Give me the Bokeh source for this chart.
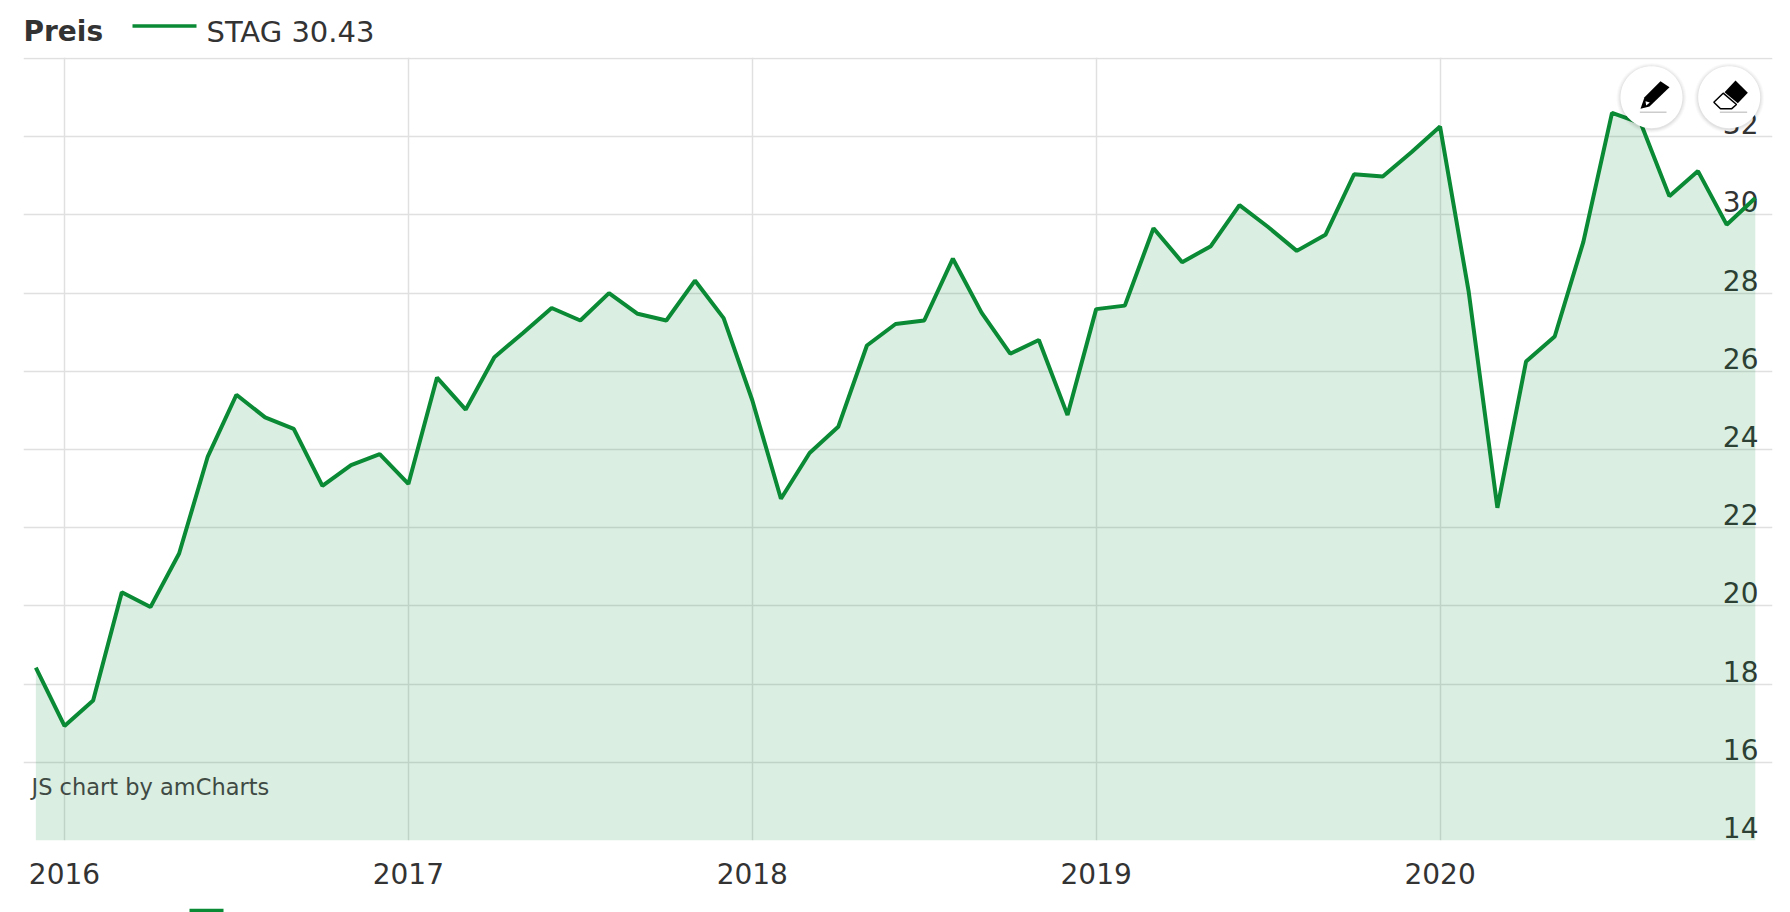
import numpy as np
from bokeh.core.properties import value
from bokeh.layouts import column
from bokeh.plotting import figure
from bokeh.models import ColumnDataSource, FixedTicker, Label, PolyAnnotation, Range1d
from bokeh.embed import file_html
from bokeh.resources import INLINE

# Monthly closing prices, Dec 2015 .. Dec 2020
prices = [18.42, 16.93, 17.58, 20.35, 19.97, 21.34, 23.82, 25.40, 24.82, 24.53, 23.07, 23.60, 23.88,
          23.12, 25.84, 25.02, 26.36, 26.98, 27.62, 27.30, 28.00, 27.47, 27.30, 28.32, 27.36,
          25.26, 22.74, 23.91, 24.58, 26.66, 27.21, 27.30, 28.88, 27.50, 26.45, 26.80, 24.88,
          27.59, 27.68, 29.66, 28.79, 29.20, 30.25, 29.69, 29.08, 29.49, 31.04, 30.98, 31.60,
          32.26, 28.03, 22.51, 26.25, 26.89, 29.31, 32.61, 32.35, 30.48, 31.12, 29.75, 30.43]
years = ["2016", "2017", "2018", "2019", "2020"]
year_index = [1, 13, 25, 37, 49]
y_labels = [14, 16, 18, 20, 22, 24, 26, 28, 30, 32]
y_grid = [14, 16, 18, 20, 22, 24, 26, 28, 30, 32, 34]
series_name = "STAG 30.43"
title_text = "Preis"
credit_text = "JS chart by amCharts"

GREEN = "#0a8a34"
TEXT = "#333333"
FONT = "DejaVu Sans"
W, H = 1790, 912
FRAME_L, FRAME_R, FRAME_T, FRAME_B = 23, 1772, 57, 840
FOOT = 8
X0, X1 = -0.43, 60.6
PX_PER_X = (FRAME_R - FRAME_L) / (X1 - X0)
Y_TOP = 34 + 1 / 39.1


def bare(height, y_range):
    f = figure(width=W, height=height, output_backend="svg", toolbar_location=None,
               x_range=Range1d(FRAME_L, FRAME_R), y_range=y_range, x_axis_location=None,
               y_axis_location=None, min_border=0, min_border_left=FRAME_L,
               min_border_right=W - FRAME_R, min_border_top=0, min_border_bottom=0,
               outline_line_color=None)
    f.grid.visible = False
    return f


# ---- header strip: title and series key
head = bare(FRAME_T, Range1d(FRAME_T, 0))
head.text(x=[23], y=[31], text=[title_text], text_font=value(FONT), text_font_size="28px",
          text_font_style="bold", text_color=TEXT, text_baseline="middle")
head.line(x=[132, 196], y=[25.5, 25.5], line_color=GREEN, line_width=3.5)
head.text(x=[206], y=[31], text=[series_name], text_font=value(FONT), text_font_size="29px",
          text_color=TEXT, text_baseline="middle")

# ---- main chart
x = list(range(len(prices)))
src = ColumnDataSource(dict(x=x, y=prices, base=[y_labels[0]] * len(prices)))

p = figure(width=W, height=H - FRAME_T - FOOT, output_backend="svg", toolbar_location=None,
           x_range=Range1d(X0, X1), y_range=Range1d(14, Y_TOP), y_axis_location=None,
           min_border_left=FRAME_L, min_border_right=W - FRAME_R,
           min_border_top=0, min_border_bottom=H - FOOT - FRAME_B, outline_line_color=None)

p.xgrid.ticker = FixedTicker(ticks=year_index)
p.ygrid.ticker = FixedTicker(ticks=y_grid)
for g in (p.xgrid, p.ygrid):
    g.grid_line_color = "#e0e0e0"
    g.grid_line_width = 1.5

p.xaxis.ticker = FixedTicker(ticks=year_index)
p.xaxis.major_label_overrides = dict(zip(year_index, years))
p.xaxis.axis_line_color = None
p.xaxis.major_tick_line_color = None
p.xaxis.minor_tick_line_color = None
p.xaxis.major_label_text_font = FONT
p.xaxis.major_label_text_font_size = "28px"
p.xaxis.major_label_text_color = TEXT
p.xaxis.major_label_standoff = 16

# value labels sit inside the plot, under the series, just above their grid lines
p.text(x=[X1 - 14 / PX_PER_X] * len(y_labels), y=y_labels, text=[str(v) for v in y_labels],
       text_font=value(FONT), text_font_size="28px", text_color=TEXT, text_align="right",
       text_baseline="alphabetic", y_offset=-13)

p.varea(x="x", y1="base", y2="y", source=src, fill_color=GREEN, fill_alpha=0.15)
p.line(x="x", y="y", source=src, line_color=GREEN, line_width=4)


def sx(px):
    return px - FRAME_L


def sy(py):
    return FRAME_B - py


p.add_layout(Label(x=sx(31), y=sy(786), x_units="screen", y_units="screen", text=credit_text,
                   text_font=FONT, text_font_size="22.5px", text_color="#3f4a44",
                   text_baseline="middle"))


def poly(pts, color, alpha=1.0, line=None):
    p.add_layout(PolyAnnotation(xs=[sx(a) for a, _ in pts], ys=[sy(b) for _, b in pts],
                                xs_units="screen", ys_units="screen",
                                fill_color=color, fill_alpha=alpha,
                                line_color=line, line_alpha=1, line_width=1.5, level="overlay"))


def disc(cx, cy, r):
    t = np.linspace(0, 2 * np.pi, 72, endpoint=False)
    return list(zip(cx + r * np.cos(t), cy + r * np.sin(t)))


def z(a, b):
    return (1500 + a / 3, 40 + b / 3)


for cx in (1651, 1728.7):
    for dr, al in ((4, 0.02), (3, 0.025), (2, 0.03), (1, 0.04)):
        poly(disc(cx, 97.5, 31 + dr), "#000000", al)
    poly(disc(cx, 96.7, 31), "#ffffff")

# pencil
poly([z(480, 122), z(507, 140), z(447, 198), z(420, 205), z(432, 170)], "#000000")
poly([z(435, 182), z(448, 186), z(437, 195)], "#ffffff")
poly([z(418, 214), z(498, 214), z(498, 216), z(418, 216)], "#999999")
# eraser
poly([z(705, 120), z(742, 157), z(712, 188), z(672, 155)], "#000000")
poly([z(668, 158), z(708, 192), z(693, 205), z(660, 205), z(640, 185)], "#ffffff", line="#000000")
poly([z(658, 214), z(740, 214), z(740, 216), z(658, 216)], "#999999")

# ---- footer strip: top edge of the next element on the page
foot = bare(FOOT, Range1d(0, 1))
foot.quad(left=[189], right=[223], bottom=[0], top=[1], fill_color=GREEN, line_color=None)

page = column(head, p, foot, spacing=0)
open("out.html", "w").write(file_html(page, INLINE))
